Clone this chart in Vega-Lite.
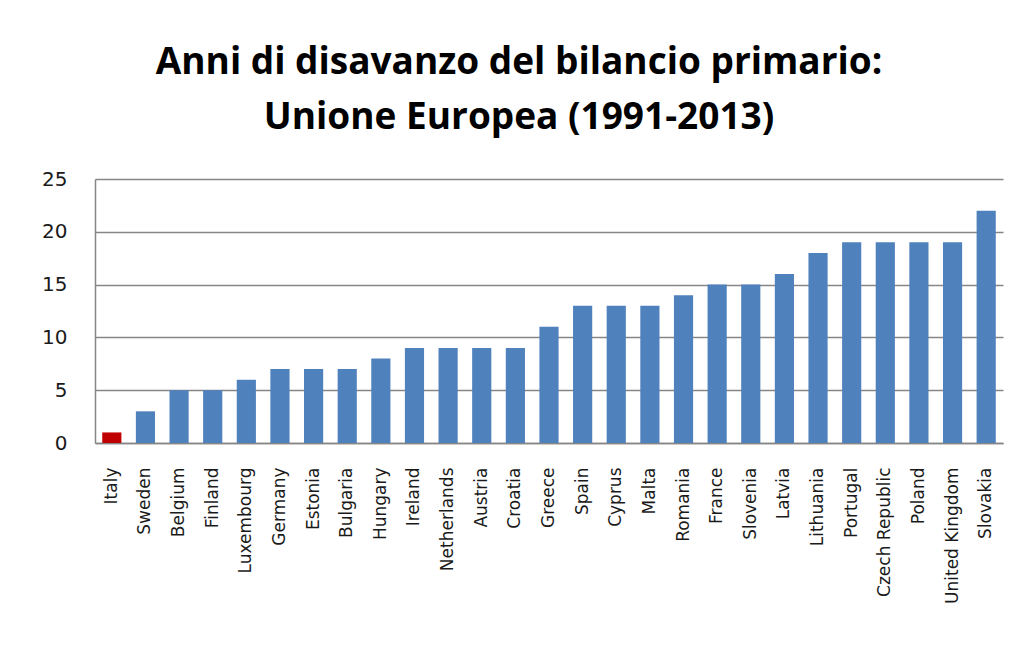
{
  "$schema": "https://vega.github.io/schema/vega-lite/v6.json",
  "width": 908,
  "height": 264,
  "autosize": "none",
  "padding": {"left": 95, "top": 179, "right": 18, "bottom": 205},
  "background": "white",
  "title": {
    "text": ["Anni di disavanzo  del bilancio  primario:", "Unione Europea (1991-2013)"],
    "font": "Open Sans",
    "fontSize": 37,
    "fontWeight": "bold",
    "color": "#000000",
    "lineHeight": 55,
    "anchor": "middle",
    "dx": -30,
    "offset": 32
  },
  "data": {
    "values": [
      {"country": "Italy", "years": 1, "hl": "y"},
      {"country": "Sweden", "years": 3, "hl": "n"},
      {"country": "Belgium", "years": 5, "hl": "n"},
      {"country": "Finland", "years": 5, "hl": "n"},
      {"country": "Luxembourg", "years": 6, "hl": "n"},
      {"country": "Germany", "years": 7, "hl": "n"},
      {"country": "Estonia", "years": 7, "hl": "n"},
      {"country": "Bulgaria", "years": 7, "hl": "n"},
      {"country": "Hungary", "years": 8, "hl": "n"},
      {"country": "Ireland", "years": 9, "hl": "n"},
      {"country": "Netherlands", "years": 9, "hl": "n"},
      {"country": "Austria", "years": 9, "hl": "n"},
      {"country": "Croatia", "years": 9, "hl": "n"},
      {"country": "Greece", "years": 11, "hl": "n"},
      {"country": "Spain", "years": 13, "hl": "n"},
      {"country": "Cyprus", "years": 13, "hl": "n"},
      {"country": "Malta", "years": 13, "hl": "n"},
      {"country": "Romania", "years": 14, "hl": "n"},
      {"country": "France", "years": 15, "hl": "n"},
      {"country": "Slovenia", "years": 15, "hl": "n"},
      {"country": "Latvia", "years": 16, "hl": "n"},
      {"country": "Lithuania", "years": 18, "hl": "n"},
      {"country": "Portugal", "years": 19, "hl": "n"},
      {"country": "Czech Republic", "years": 19, "hl": "n"},
      {"country": "Poland", "years": 19, "hl": "n"},
      {"country": "United Kingdom", "years": 19, "hl": "n"},
      {"country": "Slovakia", "years": 22, "hl": "n"}
    ]
  },
  "mark": {"type": "bar"},
  "encoding": {
    "x": {
      "field": "country",
      "type": "nominal",
      "sort": null,
      "scale": {"paddingInner": 0.43, "paddingOuter": 0.215},
      "axis": {
        "title": null,
        "labelAngle": -90,
        "labelFont": "DejaVu Sans",
        "labelFontSize": 17,
        "labelColor": "#1a1a1a",
        "labelPadding": 24,
        "ticks": false,
        "domainColor": "#868686",
        "domainWidth": 1.5
      }
    },
    "y": {
      "field": "years",
      "type": "quantitative",
      "scale": {"domain": [0, 25]},
      "axis": {
        "title": null,
        "values": [0, 5, 10, 15, 20, 25],
        "labelFont": "DejaVu Sans",
        "labelFontSize": 20,
        "labelColor": "#1a1a1a",
        "labelPadding": 28,
        "ticks": false,
        "grid": true,
        "gridColor": "#868686",
        "gridWidth": 1.5,
        "domainColor": "#868686",
        "domainWidth": 1.5
      }
    },
    "color": {
      "field": "hl",
      "type": "nominal",
      "scale": {"domain": ["y", "n"], "range": ["#C00000", "#4F81BD"]},
      "legend": null
    }
  },
  "config": {"view": {"stroke": null}}
}
